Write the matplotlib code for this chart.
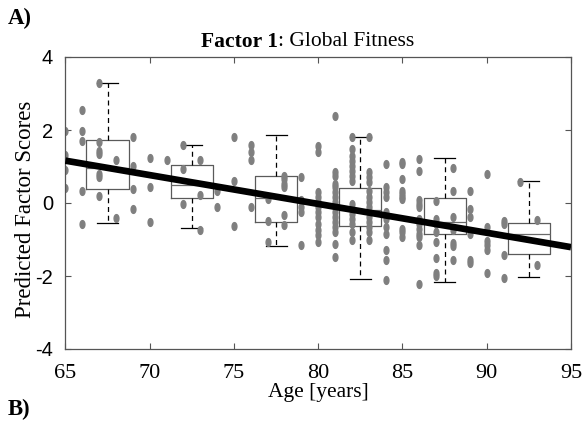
import numpy as np
import matplotlib
matplotlib.use("Agg")
import matplotlib.pyplot as plt
from matplotlib.path import Path

# ---------------- data ----------------
ages = [65, 66, 67, 68, 69, 70, 71, 72, 73, 74, 75, 76, 77, 78, 79,
        80, 81, 82, 83, 84, 85, 86, 87, 88, 89, 90, 91, 92, 93]
scores = [
    [1.98, 1.32, 0.91, 0.40],
    [2.55, 1.98, 1.69, 0.34, -0.57],
    [3.28, 1.66, 1.43, 1.35, 0.80, 0.70, 0.20],
    [1.19, -0.40],
    [1.82, 1.02, 0.39, -0.16],
    [1.24, 0.45, -0.52],
    [1.19],
    [1.60, 0.92, -0.02],
    [1.19, 0.22, -0.75],
    [0.34, -0.11],
    [1.82, 0.61, -0.63],
    [1.60, 1.39, 1.18, -0.11],
    [0.10, -0.48, -1.07],
    [0.75, 0.66, 0.51, 0.43, -0.34, -0.61],
    [0.72, 0.07, -0.11, -0.25, -1.16],
    [1.56, 1.39, 0.30, 0.16, 0.02, -0.11, -0.25, -0.39, -0.57, -0.75, -0.89, -1.08],
    [2.39, 0.84, 0.75, 0.52, 0.43, 0.30, 0.16, 0.02, -0.11, -0.25, -0.39, -0.52,
     -0.66, -0.80, -1.11, -1.48],
    [1.81, 1.48, 1.30, 1.16, 1.02, 0.89, 0.75, 0.61, -0.02, -0.16, -0.30, -0.43,
     -0.57, -0.80, -1.02],
    [1.81, 0.84, 0.70, 0.57, 0.34, 0.16, 0.02, -0.11, -0.25, -0.39, -0.52, -0.66,
     -0.80, -1.02],
    [1.08, 0.43, 0.30, 0.16, -0.25, -0.43, -0.66, -0.84, -1.30, -1.57, -2.12],
    [1.13, 1.07, 0.66, 0.34, 0.25, 0.16, 0.11, -0.70, -0.80, -0.93],
    [1.21, 0.89, 0.07, -0.02, -0.11, -0.43, -0.57, -0.70, -0.84, -0.93, -1.16, -2.21],
    [0.05, -0.43, -0.57, -0.80, -1.08, -1.52, -1.92, -2.01],
    [0.97, 0.34, -0.39, -0.73, -1.10, -1.19, -1.57],
    [0.34, -0.16, -0.39, -0.84, -1.55, -1.64],
    [0.79, -0.66, -1.05, -1.16, -1.28, -1.93],
    [-0.48, -0.58, -1.42, -2.06],
    [0.57],
    [-0.46, -1.71],
]

box_pos = [67.5, 72.5, 77.5, 82.5, 87.5, 92.5]
box_q1 = [0.39, 0.14, -0.51, -0.62, -0.86, -1.41]
box_med = [0.95, 0.50, 0.15, -0.18, -0.51, -0.86]
box_q3 = [1.73, 1.04, 0.73, 0.40, 0.14, -0.55]
box_wlo = [-0.54, -0.68, -1.17, -2.09, -2.17, -2.04]
box_whi = [3.30, 1.60, 1.86, 1.81, 1.24, 0.59]

fit_ages = [65, 95]
fit_scores = [1.16, -1.21]

x_ticks = [65, 70, 75, 80, 85, 90, 95]
y_ticks = [-4, -2, 0, 2, 4]

# ---------------- figure ----------------
SERIF = "Liberation Serif"
SANS = "Liberation Sans"

fig = plt.figure(figsize=(5.84, 4.21), dpi=100)
ax = fig.add_axes([65.4 / 584, 1 - 349 / 421, (571 - 65.4) / 584, (349 - 57) / 421])

# box plots
stats = []
for i in range(len(box_pos)):
    stats.append(dict(med=box_med[i], q1=box_q1[i], q3=box_q3[i],
                      whislo=box_wlo[i], whishi=box_whi[i], fliers=[]))
ax.bxp(stats, positions=box_pos, widths=2.5, showfliers=False,
       boxprops=dict(color="#5a5a5a", linewidth=0.9),
       medianprops=dict(color="#6a6a6a", linewidth=0.9),
       whiskerprops=dict(color="black", linestyle=(0, (4, 3)), linewidth=0.9),
       capprops=dict(color="black", linewidth=0.9),
       manage_ticks=False, zorder=1)

# scatter points (vertically elongated ellipses)
th = np.linspace(0, 2 * np.pi, 41)
ell = Path(np.column_stack([0.62 * np.cos(th), np.sin(th)]), closed=True)
xs = np.concatenate([[a] * len(s) for a, s in zip(ages, scores)])
ys = np.concatenate([s for s in scores])
ax.plot(xs, ys, linestyle="none", marker=ell, markersize=5.6,
        markerfacecolor="#7f7f7f", markeredgecolor="#7f7f7f", zorder=2)

# regression line
ax.plot(fit_ages, fit_scores, color="black", linewidth=4.8,
        solid_capstyle="butt", zorder=3)

ax.set_xlim(65, 95)
ax.set_ylim(-4, 4)
ax.set_xticks(x_ticks)
ax.set_yticks(y_ticks)
ax.set_xticklabels([str(v) for v in x_ticks], fontfamily=SERIF, fontsize=16)
ax.set_yticklabels([str(v) for v in y_ticks], fontfamily=SANS, fontsize=14.5)
ax.tick_params(direction="in", length=4, width=0.8, color="#555555",
               top=True, right=True)
ax.tick_params(axis="y", pad=9)
ax.tick_params(axis="x", pad=11)
for sp in ax.spines.values():
    sp.set_color("#555555")
    sp.set_linewidth(0.9)

ax.set_xlabel("Age [years]", fontfamily=SERIF, fontsize=15.5, labelpad=0)
ax.set_ylabel("Predicted Factor Scores", fontfamily=SERIF, fontsize=16.5)
ax.yaxis.set_label_coords(-0.058, 0.48)

# title: bold part + regular part
ty = 1 - 42 / 421
t1 = fig.text(0, ty, "Factor 1", fontfamily=SERIF, fontweight="bold",
              fontsize=15.5, va="center", ha="left")
t2 = fig.text(0, ty, ": Global Fitness", fontfamily=SERIF, fontsize=15.5,
              va="center", ha="left")
fig.canvas.draw()
r = fig.canvas.get_renderer()
w1 = t1.get_window_extent(r).width
w2 = t2.get_window_extent(r).width
cx = 308.0
x0 = cx - (w1 + w2) / 2
t1.set_x(x0 / 584)
t2.set_x((x0 + w1) / 584)

fig.text(8 / 584, 1 - 18 / 421, "A)", fontfamily=SERIF, fontweight="bold",
         fontsize=16.5, va="center", ha="left")
fig.text(8 / 584, 1 - 409 / 421, "B)", fontfamily=SERIF, fontweight="bold",
         fontsize=16.5, va="center", ha="left")

fig.savefig("out.png", dpi=100)
